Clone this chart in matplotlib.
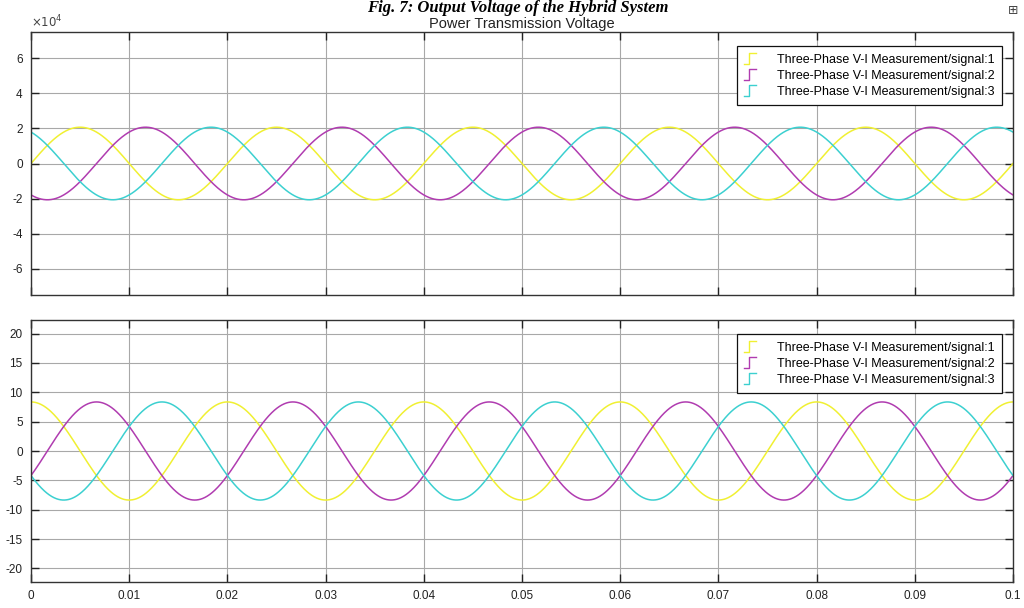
"""Three-phase V-I measurement scope view: transmission voltage and current."""
import numpy as np
import matplotlib
matplotlib.use("Agg")
from matplotlib import pyplot as plt
from matplotlib.lines import Line2D
from matplotlib.legend_handler import HandlerBase
from matplotlib.ticker import FuncFormatter

# Signal parameters
freq_hz = 50.0
t_end = 0.1
phase_deg = [0.0, -120.0, 120.0]          # signal:1, :2, :3
voltage_peak = 2.07e4                      # top panel (V)
voltage_offset_deg = 0.0                   # yellow starts at zero, rising
current_peak = 8.35                        # bottom panel
current_offset_deg = 90.0                  # yellow starts at its peak
labels = ["Three-Phase V-I Measurement/signal:1",
          "Three-Phase V-I Measurement/signal:2",
          "Three-Phase V-I Measurement/signal:3"]
colors = ["#f0f032", "#b03cb0", "#3cd0d0"]
x_ticks = [0, 0.01, 0.02, 0.03, 0.04, 0.05, 0.06, 0.07, 0.08, 0.09, 0.1]
x_ticklabels = ["0", "0.01", "0.02", "0.03", "0.04", "0.05",
                "0.06", "0.07", "0.08", "0.09", "0.1"]
top_yticks = [-6e4, -4e4, -2e4, 0, 2e4, 4e4, 6e4]
top_scale = 1e4
bottom_yticks = [-20, -15, -10, -5, 0, 5, 10, 15, 20]

plt.rcParams["font.family"] = ["Liberation Sans", "DejaVu Sans"]
plt.rcParams["axes.unicode_minus"] = False


class StepHandler(HandlerBase):
    """Draw the little step icon that Simulink scopes use in legends."""
    def create_artists(self, legend, orig_handle, xdescent, ydescent,
                       width, height, fontsize, trans):
        x0, y0 = -xdescent, -ydescent
        xs = [x0, x0 + 0.45 * width, x0 + 0.45 * width, x0 + width]
        ys = [y0, y0, y0 + height, y0 + height]
        line = Line2D(xs, ys, color=orig_handle.get_color(), lw=1.0)
        line.set_transform(trans)
        return [line]


def style_axes(ax):
    ax.set_xlim(0, t_end)
    ax.set_xticks(x_ticks)
    ax.grid(True, color="#a8a8a8", lw=0.8)
    ax.set_axisbelow(True)
    ax.tick_params(direction="in", length=6, width=1, top=True, right=True,
                   labelsize=8.5, colors="#222222", pad=6)
    for sp in ax.spines.values():
        sp.set_color("#333333")
        sp.set_linewidth(1.0)


def add_legend(ax, handles):
    leg = ax.legend(handles=handles, labels=labels, loc="upper right",
                    bbox_to_anchor=(1.0, 0.988),
                    handler_map={Line2D: StepHandler()},
                    fontsize=9.0, frameon=True, fancybox=False, framealpha=1,
                    edgecolor="#111111", borderaxespad=0.9, borderpad=0.55,
                    labelspacing=0.28, handlelength=0.95, handleheight=0.9,
                    handletextpad=1.7)
    leg.get_frame().set_linewidth(0.9)


fig = plt.figure(figsize=(10.24, 6.08), dpi=100)
ax_top = fig.add_axes([31 / 1024, 313 / 608, 982 / 1024, 263 / 608])
ax_bot = fig.add_axes([31 / 1024, 26 / 608, 982 / 1024, 262 / 608])

t = np.linspace(0, t_end, 2001)
w = 2 * np.pi * freq_hz

top_lines = []
for ph, col in zip(phase_deg, colors):
    v = voltage_peak * np.sin(w * t + np.radians(ph + voltage_offset_deg))
    top_lines.append(ax_top.plot(t, v, color=col, lw=1.1)[0])

bot_lines = []
for ph, col in zip(phase_deg, colors):
    i = current_peak * np.sin(w * t + np.radians(ph + current_offset_deg))
    bot_lines.append(ax_bot.plot(t, i, color=col, lw=1.1)[0])

style_axes(ax_top)
ax_top.set_ylim(-7.5e4, 7.5e4)
ax_top.set_yticks(top_yticks)
ax_top.yaxis.set_major_formatter(
    FuncFormatter(lambda v, pos: "{:g}".format(v / top_scale)))
ax_top.text(0.0, 1.008, r"$\times10^{4}$", transform=ax_top.transAxes,
            ha="left", va="bottom", fontsize=8.5, color="#444444")
ax_top.set_xticklabels([])
ax_top.set_title("Power Transmission Voltage", fontsize=10.5,
                 color="#222222", pad=3)
add_legend(ax_top, top_lines)

style_axes(ax_bot)
ax_bot.set_ylim(-22.3, 22.3)
ax_bot.set_yticks(bottom_yticks)
ax_bot.set_xticklabels(x_ticklabels)
add_legend(ax_bot, bot_lines)

# Caption of the paper figure, squeezed in at the top edge of the screenshot
fig.text(0.506, 1 - 12.5 / 608, "Fig. 7: Output Voltage of the Hybrid System",
         ha="center", va="baseline", fontsize=12, fontweight="bold",
         fontstyle="italic", family="Liberation Serif")
fig.text(1013 / 1024, 1 - 14 / 608, "\u229e", ha="center", va="baseline",
         fontsize=9, color="#444444", family="DejaVu Sans")

fig.savefig("out.png", dpi=100)
